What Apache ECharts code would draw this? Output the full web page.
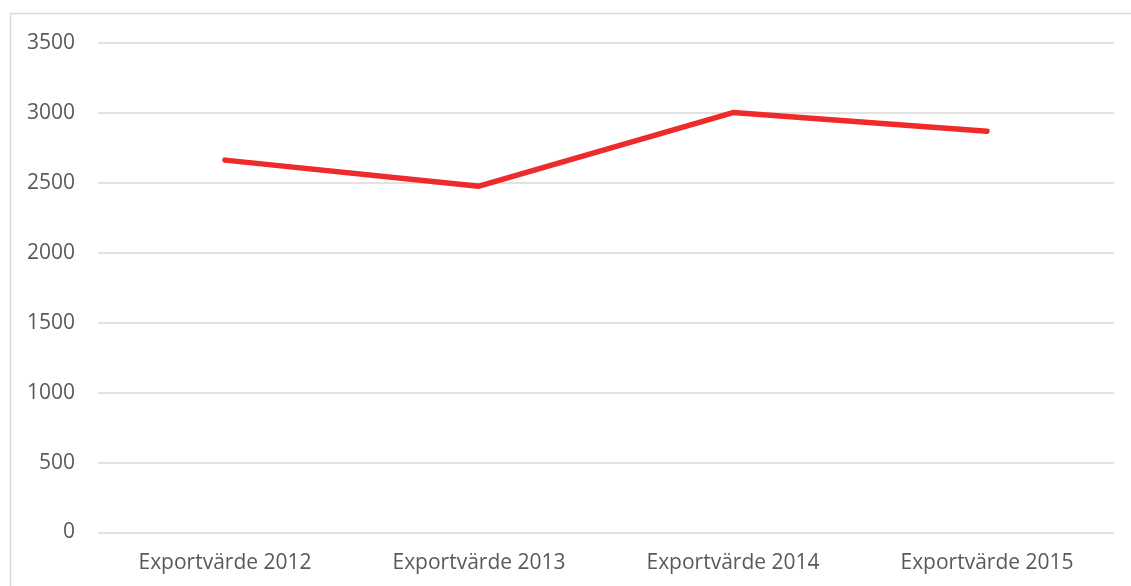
<!DOCTYPE html>
<html>
<head>
<meta charset="utf-8">
<script src="https://cdn.jsdelivr.net/npm/echarts@6/dist/echarts.min.js"></script>
<style>html,body{margin:0;padding:0;background:#fff;}#c{width:1131px;height:586px;}</style>
</head>
<body>
<div id="c"></div>
<script>
const categories = ['Exportvärde 2012', 'Exportvärde 2013', 'Exportvärde 2014', 'Exportvärde 2015'];
const values = [2661, 2475, 3001, 2868];
const yTicks = [0, 500, 1000, 1500, 2000, 2500, 3000, 3500];

const chart = echarts.init(document.getElementById('c'));
chart.setOption({
  animation: false,
  backgroundColor: '#fff',
  graphic: [{
    type: 'rect', shape: {x: 10.5, y: 13.5, width: 1140, height: 600},
    style: {fill: 'none', stroke: '#d9d9d9', lineWidth: 1.5}, silent: true
  }],
  grid: {left: 98, right: 17, top: 42.7, bottom: 53.5},
  xAxis: {
    type: 'category', data: categories, boundaryGap: true,
    axisLine: {show: false}, axisTick: {show: false},
    axisLabel: {color: '#595959', fontSize: 21, fontFamily: 'Open Sans', margin: 20}
  },
  yAxis: {
    type: 'value', min: yTicks[0], max: yTicks[yTicks.length - 1], interval: 500,
    axisLine: {show: false}, axisTick: {show: false},
    axisLabel: {color: '#595959', fontSize: 21, fontFamily: 'Open Sans', margin: 23,
      formatter: v => String(v)},
    splitLine: {lineStyle: {color: '#d9d9d9', width: 1.5}}
  },
  series: [{
    type: 'line', data: values, symbol: 'none',
    lineStyle: {color: '#ee2a2a', width: 5.5, cap: 'round', join: 'round'}
  }]
});
</script>
</body>
</html>
